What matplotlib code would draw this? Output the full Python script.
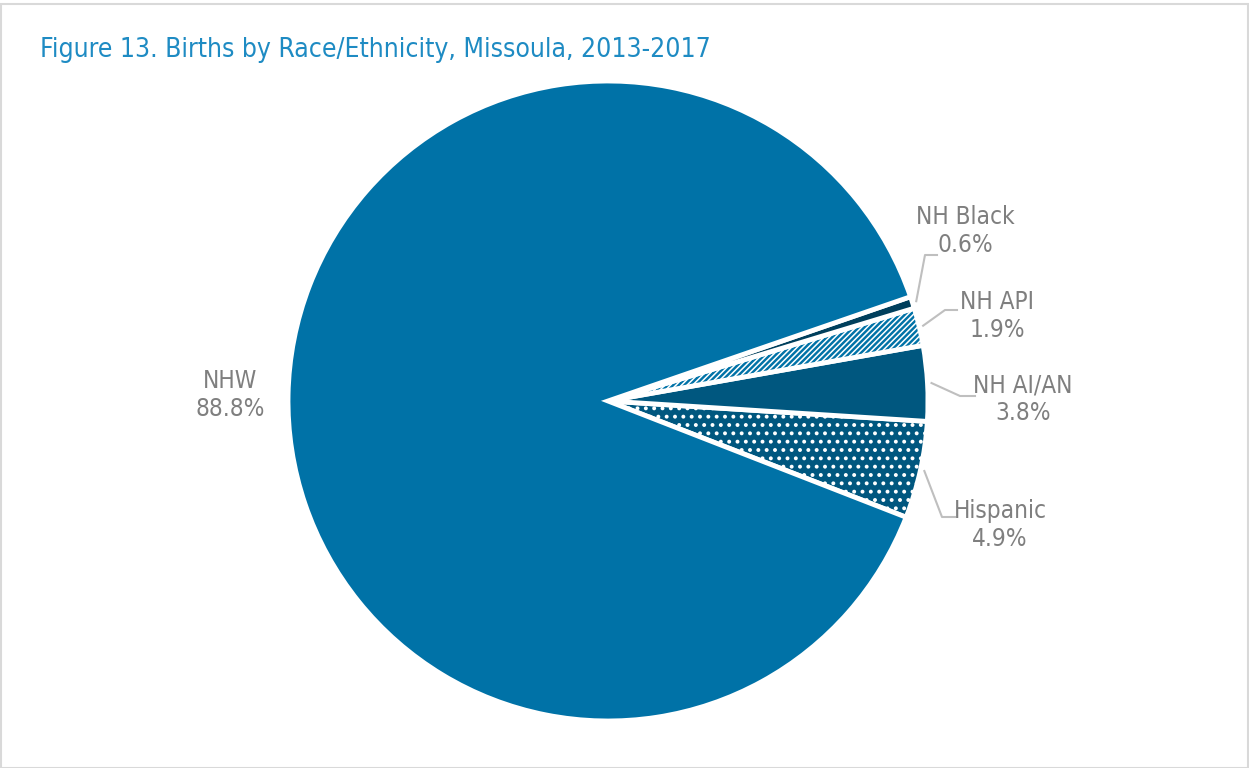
import matplotlib
matplotlib.use('Agg')
import matplotlib.pyplot as plt
from matplotlib.patches import Rectangle
import numpy as np

# data
labels = ['Hispanic', 'NH AI/AN', 'NH API', 'NH Black', 'NHW']
values = [4.9, 3.8, 1.9, 0.6, 88.8]
colors = ['#00577f', '#00577f', '#0072a7', '#003f5c', '#0072a7']
hatches = ['..', None, '//////', None, None]
hatch_lw = [1.6, None, 1.1, None, None]

plt.rcParams['font.family'] = ['DejaVu Sans']
plt.rcParams['font.stretch'] = 'condensed'
plt.rcParams['hatch.linewidth'] = 1.6

W, H = 1249, 768
fig = plt.figure(figsize=(W / 100, H / 100), dpi=100)
ax = fig.add_axes([0, 0, 1, 1])

# pie drawn in pixel units (y up)
cx, cy, r = 608, 367, 320
wedges, _ = ax.pie(values, colors=colors, startangle=-21.3, counterclock=True,
                   center=(cx, cy), radius=r, frame=True,
                   wedgeprops=dict(edgecolor='white', linewidth=3.5))
ax.set_xlim(0, W)
ax.set_ylim(0, H)
ax.axis('off')

for w, h, lw in zip(wedges, hatches, hatch_lw):
    if h:
        w.set_hatch(h)
        if hasattr(w, 'set_hatch_linewidth'):
            w.set_hatch_linewidth(lw)

txt_pos = {'NH Black': (965, 537), 'NH API': (997, 452), 'NH AI/AN': (1023, 369),
           'Hispanic': (1000, 243), 'NHW': (230, 373)}
elbows = {'NH Black': (925, 513, 937), 'NH API': (945, 458, 957),
          'NH AI/AN': (960, 372, 975), 'Hispanic': (942, 251, 955)}

gray = '#7f7f7f'
for w, lab, v in zip(wedges, labels, values):
    tx, ty = txt_pos[lab]
    ax.text(tx, ty, f'{lab}\n{v:.1f}%', ha='center', va='center', fontsize=17.5,
            color=gray, linespacing=1.2)
    if lab in elbows:
        mid = np.deg2rad((w.theta1 + w.theta2) / 2)
        sx, sy = cx + (r + 4) * np.cos(mid), cy + (r + 4) * np.sin(mid)
        ex, ey, hx = elbows[lab]
        ax.plot([sx, ex, hx], [sy, ey, ey], color='#bfbfbf', lw=1.5)

fig.text(40 / W, 1 - 50 / H, 'Figure 13. Births by Race/Ethnicity, Missoula, 2013-2017',
         fontsize=19, color='#1e8bc3', ha='left', va='center')

fig.patches.append(Rectangle((1 / W, 0), 1 - 2 / W, 1 - 4 / H, transform=fig.transFigure,
                             fill=False, edgecolor='#d9d9d9', lw=1.5))

fig.savefig('out.png', dpi=100)
